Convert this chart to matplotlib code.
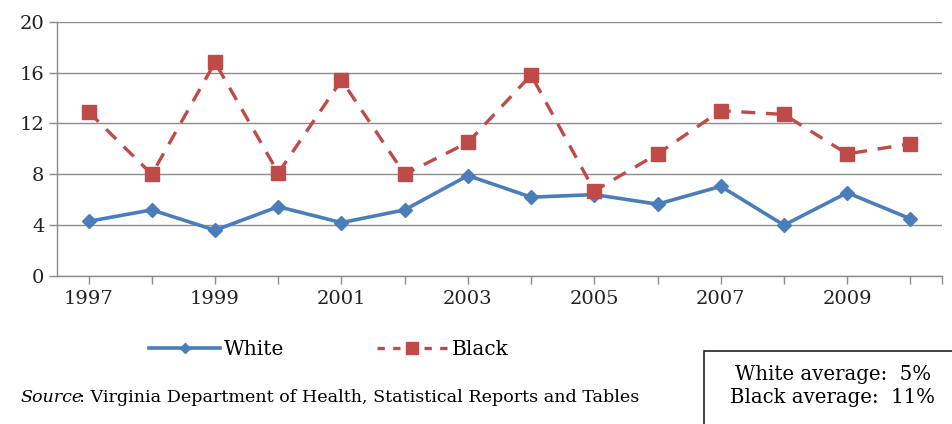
import numpy as np
import matplotlib
matplotlib.use('Agg')
import matplotlib.pyplot as plt
from matplotlib.patches import Rectangle
from matplotlib.lines import Line2D

plt.rcParams['font.family'] = ['DejaVu Serif']

years = list(range(1997, 2011))
white = [4.3, 5.2, 3.6, 5.45, 4.2, 5.2, 7.9, 6.2, 6.4, 5.65, 7.05, 4.0, 6.55, 4.5]
black = [12.9, 8.0, 16.8, 8.1, 15.4, 8.0, 10.5, 15.8, 6.7, 9.6, 13.0, 12.7, 9.6, 10.4]
yticks = [0, 4, 8, 12, 16, 20]

BLUE = '#4A7EBB'
RED = '#BE4B48'
GRID = '#8C8C8C'

fig = plt.figure(figsize=(9.53, 4.24), dpi=100)
ax = fig.add_axes([0.0598, 0.349, 0.9287, 0.600])

x = np.arange(len(years))
ax.plot(x, white, color=BLUE, lw=2.6, marker='D', ms=7, zorder=3)
ax.plot(x, black, color=RED, lw=2.4, ls=(0, (4.2, 3.2)), marker='s', ms=10, zorder=3)

ax.set_xlim(-0.5, 13.5)
ax.set_ylim(0, 20)
ax.set_yticks(yticks)
ax.set_yticklabels([str(t) for t in yticks], fontsize=14)
ax.set_xticks(list(x) + [13.5])
ax.set_xticklabels([str(y) if (y - 1997) % 2 == 0 else '' for y in years] + [''], fontsize=14)
ax.grid(axis='y', color=GRID, lw=1)
ax.set_axisbelow(True)
for s in ['top', 'right']:
    ax.spines[s].set_visible(False)
for s in ['left', 'bottom']:
    ax.spines[s].set_color(GRID)
    ax.spines[s].set_linewidth(1)
ax.tick_params(axis='both', color=GRID, length=6, width=1, colors='#222222')
ax.tick_params(axis='x', pad=4)
ax.tick_params(axis='y', pad=3)

handles = [Line2D([], [], color=BLUE, lw=2.6, marker='D', ms=5),
           Line2D([], [], color=RED, lw=2.4, ls=(0, (2.2, 2.5)), marker='s', ms=8)]
fig.legend(handles, ['White', 'Black'], loc='center', bbox_to_anchor=(0.345, 0.175),
           ncol=2, frameon=False, fontsize=14.5, handlelength=3.5, columnspacing=4.6,
           handletextpad=0.2)

fig.text(0.021, 0.063, 'Source', fontsize=12.6, va='center', ha='left', style='italic')
fig.text(0.083, 0.063, ': Virginia Department of Health, Statistical Reports and Tables',
         fontsize=12.6, va='center', ha='left')

fig.patches.append(Rectangle((704 / 953, -0.05), 0.3, 0.222, transform=fig.transFigure,
                             fill=False, edgecolor='#222222', lw=1.2))
fig.text(0.874, 0.09, 'White average:  5%\nBlack average:  11%', fontsize=14.2,
         ha='center', va='center', linespacing=1.25)

fig.savefig('out.png', dpi=100)
